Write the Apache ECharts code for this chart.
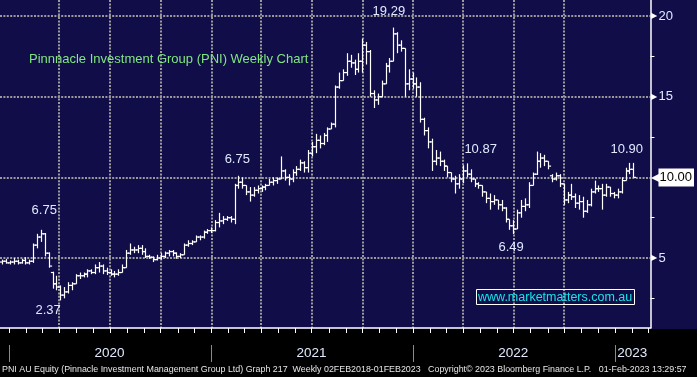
<!DOCTYPE html>
<html>
<head>
<meta charset="utf-8">
<script src="https://cdn.jsdelivr.net/npm/echarts@6/dist/echarts.min.js"></script>
<style>
html, body { margin: 0; padding: 0; background: #100d49; }
#chart { width: 697px; height: 377px; }
</style>
</head>
<body>
<div id="chart"></div>
<script>
var DAY = 864e5;
function day(s) {
    var p = s.split('-');
    return Date.UTC(+p[0], +p[1] - 1, +p[2]);
}

// weekly bars, first one is Fri 20 Dec 2019
var firstWeek = day('2019-12-20');
var opens = [4.75, 4.8, 4.7, 4.75, 4.8, 4.7, 4.85, 4.7, 4.8, 5.8,
    6.3, 6.5, 5.3, 4.1, 3.4, 3.2, 2.7, 2.9, 3.3, 3.4,
    3.9, 3.9, 4.0, 4.2, 4.1, 4.4, 4.5, 4.2, 4.1, 4.0,
    4.0, 4.1, 4.4, 5.3, 5.5, 5.5, 5.6, 5.4, 5.1, 5.05,
    4.9, 5.0, 5.1, 5.3, 5.4, 5.3, 5.1, 5.2, 5.8, 5.9,
    6.0, 6.3, 6.3, 6.6, 6.7, 6.7, 7.2, 7.3, 7.4, 7.5,
    7.4, 9.5, 9.7, 9.5, 9.1, 8.9, 9.2, 9.3, 9.4, 9.5,
    9.7, 9.8, 9.9, 10.4, 10.0, 9.9, 10.3, 10.5, 10.9, 10.6,
    11.5, 11.9, 12.3, 12.1, 12.6, 13.0, 13.3, 15.6, 16.0, 16.5,
    17.2, 17.1, 16.7, 17.2, 18.2, 17.8, 15.2, 14.8, 15.0, 15.8,
    16.9, 17.2, 18.9, 18.2, 18.0, 15.8, 16.1, 15.8, 15.6, 13.6,
    12.9, 12.2, 11.0, 11.2, 11.0, 10.7, 10.3, 9.9, 9.6, 9.9,
    10.4, 10.2, 9.9, 9.6, 9.5, 9.1, 8.7, 8.5, 8.6, 8.3,
    8.1, 7.4, 7.0, 6.8, 7.8, 8.2, 8.3, 9.5, 10.2, 11.0,
    11.2, 11.0, 10.1, 9.9, 10.1, 9.6, 8.6, 8.9, 8.8, 8.4,
    8.5, 7.9, 8.3, 9.1, 9.3, 9.3, 8.9, 9.4, 9.0, 8.9,
    9.1, 9.8, 10.4, 10.5];
var highs = [4.9, 4.95, 4.85, 5.0, 4.9, 4.95, 5.05, 4.9, 5.9, 6.5,
    6.75, 6.55, 5.35, 4.15, 3.9, 3.3, 3.2, 3.5, 3.5, 4.0,
    4.1, 4.1, 4.3, 4.3, 4.6, 4.75, 4.6, 4.4, 4.3, 4.2,
    4.3, 4.6, 5.5, 5.9, 5.7, 5.8, 5.8, 5.6, 5.2, 5.1,
    5.2, 5.3, 5.4, 5.5, 5.5, 5.35, 5.3, 5.9, 6.1, 6.1,
    6.4, 6.4, 6.7, 6.8, 6.9, 7.35, 7.8, 7.6, 7.6, 7.6,
    9.6, 10.1, 10.0, 9.5, 9.4, 9.4, 9.5, 9.5, 9.6, 9.9,
    10.0, 10.0, 11.3, 10.5, 10.2, 10.5, 10.7, 11.1, 11.0, 11.7,
    12.2, 12.7, 12.6, 12.75, 13.1, 13.4, 15.7, 16.5, 16.7, 17.7,
    17.6, 17.3, 17.7, 18.6, 18.4, 17.9, 15.4, 15.2, 16.0, 17.1,
    17.4, 19.29, 19.0, 18.5, 18.0, 16.7, 16.5, 16.2, 15.9, 13.7,
    13.1, 12.4, 11.7, 11.6, 11.1, 10.7, 10.3, 10.1, 10.2, 10.75,
    10.87, 10.5, 9.9, 9.7, 9.5, 9.1, 9.0, 8.9, 8.6, 8.6,
    8.15, 7.4, 7.35, 8.0, 8.6, 8.7, 9.7, 10.3, 11.6, 11.5,
    11.4, 11.0, 10.2, 10.3, 10.2, 9.6, 9.1, 9.6, 9.0, 8.9,
    8.8, 8.6, 9.3, 9.8, 9.5, 9.6, 9.6, 9.4, 9.1, 9.3,
    10.0, 10.6, 10.9, 10.9];
var lows = [4.6, 4.65, 4.6, 4.6, 4.6, 4.65, 4.6, 4.6, 4.7, 5.6,
    6.0, 5.1, 4.4, 3.1, 3.0, 2.37, 2.5, 2.8, 3.0, 3.4,
    3.7, 3.8, 3.8, 4.0, 4.0, 4.1, 4.0, 3.95, 3.9, 3.8,
    3.9, 4.1, 4.4, 5.2, 5.3, 5.3, 5.2, 5.0, 4.95, 4.75,
    4.85, 4.9, 5.0, 5.1, 5.1, 4.95, 5.0, 5.2, 5.7, 5.8,
    6.0, 6.1, 6.2, 6.5, 6.55, 6.65, 6.9, 7.1, 7.3, 7.2,
    7.1, 9.3, 9.3, 8.9, 8.5, 8.8, 9.0, 9.1, 9.2, 9.5,
    9.5, 9.6, 9.9, 9.8, 9.5, 9.7, 10.1, 10.4, 10.3, 10.3,
    11.3, 11.5, 11.8, 12.0, 12.2, 13.0, 13.1, 15.5, 16.0, 16.3,
    16.8, 16.35, 16.5, 16.5, 17.0, 15.0, 14.3, 14.5, 15.0, 15.8,
    16.5, 17.2, 17.7, 17.8, 15.0, 15.4, 15.5, 15.0, 13.4, 12.6,
    11.8, 10.4, 10.75, 10.7, 10.4, 10.0, 9.7, 9.0, 9.3, 9.65,
    10.0, 9.7, 9.4, 9.3, 8.8, 8.4, 8.0, 8.3, 8.0, 7.9,
    7.2, 6.75, 6.49, 6.8, 7.5, 7.9, 8.1, 9.5, 10.15, 10.6,
    10.7, 10.5, 9.7, 9.8, 9.4, 8.3, 8.4, 8.6, 8.1, 8.0,
    7.5, 7.8, 8.2, 9.0, 9.1, 8.0, 8.8, 8.8, 8.7, 8.7,
    9.0, 9.8, 10.2, 10.0];
var closes = [4.8, 4.7, 4.75, 4.8, 4.7, 4.85, 4.7, 4.8, 5.8, 6.3,
    6.5, 5.3, 4.5, 3.4, 3.2, 2.7, 2.9, 3.3, 3.4, 3.9,
    3.9, 4.0, 4.2, 4.1, 4.4, 4.5, 4.2, 4.1, 4.0, 4.0,
    4.1, 4.4, 5.3, 5.5, 5.5, 5.6, 5.4, 5.1, 5.05, 4.9,
    5.0, 5.1, 5.3, 5.4, 5.3, 5.1, 5.2, 5.8, 5.9, 6.0,
    6.3, 6.3, 6.6, 6.7, 6.7, 7.2, 7.3, 7.4, 7.5, 7.4,
    9.5, 9.7, 9.5, 9.1, 8.9, 9.2, 9.3, 9.4, 9.5, 9.7,
    9.8, 9.9, 10.4, 10.0, 9.9, 10.3, 10.5, 10.9, 10.6, 11.5,
    11.9, 12.3, 12.1, 12.6, 13.0, 13.3, 15.6, 16.0, 16.5, 17.2,
    17.1, 16.7, 17.2, 18.2, 17.8, 15.2, 14.8, 15.0, 15.8, 16.9,
    17.2, 18.9, 18.2, 18.0, 15.8, 16.1, 15.8, 15.6, 13.6, 12.9,
    12.2, 11.0, 11.2, 11.0, 10.7, 10.3, 9.9, 9.6, 9.9, 10.4,
    10.2, 9.9, 9.6, 9.5, 9.1, 8.7, 8.5, 8.6, 8.3, 8.1,
    7.4, 7.0, 6.8, 7.8, 8.2, 8.3, 9.5, 10.2, 11.0, 11.2,
    11.0, 10.7, 9.9, 10.1, 9.6, 8.6, 8.9, 8.8, 8.4, 8.5,
    7.9, 8.3, 9.1, 9.3, 9.3, 8.9, 9.4, 9.0, 8.9, 9.1,
    9.8, 10.4, 10.5, 10.0];

var lastPrice = 10.00;

// price annotations written on the chart
var noteTexts = ['6.75', '2.37', '6.75', '19.29', '10.87', '6.49', '10.90'];
var noteDates = ['2020-03-05', '2020-03-12', '2021-02-17', '2021-11-18', '2022-05-03', '2022-06-27', '2023-01-22'];
var noteValues = [7.98, 1.78, 11.14, 20.28, 11.76, 5.68, 11.76];

var yearLabels = ['2020-07-01', '2021-07-01', '2022-07-01', '2023-02-01'];
var priceLabels = [5, 10, 15, 20];

var yMin = 0.66;
var xMin = day('2019-12-16');
var xMax = day('2023-03-06');

// month starts along the time axis; Jan ones also get the year divider
var monthTicks = [];
var quarterTicks = [];
for (var y = 2020; y <= 2023; y++) {
    for (var m = 0; m < 12; m++) {
        var t = Date.UTC(y, m, 1);
        if (t > xMax) break;
        monthTicks.push([t, m === 0 ? 1 : 0]);
        if (m % 3 === 0) quarterTicks.push(t);
    }
}

var bars = opens.map(function (o, i) {
    return [firstWeek + i * 7 * DAY, o, highs[i], lows[i], closes[i]];
});

var chartDom = document.getElementById('chart');
var myChart = echarts.init(chartDom);

var gridDots = { color: '#9a9a9a', width: 2, type: [2, 1.4] };
var labelFont = 'Liberation Sans, Arial, sans-serif';

function renderOhlc(params, api) {
    var t = api.value(0);
    var h = api.coord([t, api.value(2)]);
    var l = api.coord([t, api.value(3)]);
    var o = api.coord([t, api.value(1)]);
    var c = api.coord([t, api.value(4)]);
    var x = Math.round(h[0]) + 0.5;
    var style = { stroke: '#ffffff', lineWidth: 1.2 };
    return {
        type: 'group',
        children: [
            { type: 'line', shape: { x1: x, y1: h[1], x2: x, y2: l[1] }, style: style },
            { type: 'line', shape: { x1: x - 2.6, y1: o[1], x2: x, y2: o[1] }, style: style },
            { type: 'line', shape: { x1: x, y1: c[1], x2: x + 2.6, y2: c[1] }, style: style }
        ]
    };
}

// month ticks under the axis line, plus grey year dividers lower down
function renderCalendar(params, api) {
    var p = api.coord([api.value(0), yMin]);
    var x = Math.round(p[0]) + 0.5;
    var kids = [{
        type: 'line',
        shape: { x1: x, y1: p[1], x2: x, y2: p[1] + 5 },
        style: { stroke: '#ffffff', lineWidth: 1 }
    }];
    if (api.value(1) === 1) {
        kids.push({
            type: 'line',
            shape: { x1: x, y1: p[1] + 17, x2: x, y2: p[1] + 34 },
            style: { stroke: '#8a8a8a', lineWidth: 1 }
        });
    }
    return { type: 'group', children: kids };
}

var option = {
    animation: false,
    backgroundColor: '#100d49',
    title: [
        {
            text: 'Pinnnacle Investment Group (PNI) Weekly Chart',
            left: 29, top: 53, padding: 0,
            textStyle: { color: '#80e680', fontSize: 13, fontWeight: 'normal', fontFamily: labelFont }
        },
        {
            text: 'www.marketmatters.com.au',
            left: 476, top: 289, padding: [2, 3, 1, 2],
            borderColor: '#ffffff', borderWidth: 1,
            textStyle: { color: '#19e3ea', fontSize: 12.5, fontWeight: 'normal', fontFamily: labelFont }
        },
        {
            text: 'PNI AU Equity (Pinnacle Investment Management Group Ltd) Graph 217  Weekly 02FEB2018-01FEB2023   Copyright\u00a9 2023 Bloomberg Finance L.P.   01-Feb-2023 13:29:57',
            left: 2, top: 365, padding: 0,
            textStyle: { color: '#e6e6e6', fontSize: 8.9, fontWeight: 'normal', fontFamily: labelFont }
        }
    ],
    graphic: [
        {
            type: 'rect', left: 0, top: 329, z: -10,
            shape: { width: 697, height: 48 },
            style: { fill: '#000000' }
        }
    ],
    grid: { left: 0, right: 43, top: 0, bottom: 49 },
    xAxis: [
        {
            type: 'value', min: xMin, max: xMax,
            axisLine: { show: true, lineStyle: { color: '#ffffff', width: 1.5 } },
            axisTick: { show: false },
            axisLabel: {
                show: true,
                customValues: yearLabels.map(day),
                margin: 18,
                color: '#e2e9ff', fontSize: 13.5, fontFamily: labelFont,
                formatter: function (v) { return String(new Date(v).getUTCFullYear()); }
            },
            splitLine: { show: false }
        },
        {
            type: 'value', min: xMin, max: xMax,
            axisLine: { show: false },
            axisTick: { show: true, customValues: quarterTicks, length: 0, lineStyle: { opacity: 0 } },
            axisLabel: { show: false },
            splitLine: { show: true, showMinLine: false, showMaxLine: false, lineStyle: gridDots }
        }
    ],
    yAxis: {
        type: 'value', position: 'right',
        min: yMin, max: 21, splitNumber: 4,
        axisLine: { show: true, lineStyle: { color: '#ffffff', width: 1.5 } },
        axisTick: { show: false },
        minorTick: { show: true, splitNumber: 2, length: 4, lineStyle: { color: '#ffffff' } },
        axisLabel: {
            customValues: priceLabels,
            margin: 1,
            formatter: function (v) {
                if (v === lastPrice) return '{tri|\u25c0}{tag|' + lastPrice.toFixed(2) + '}';
                return '{arr|\u25b6}{num|' + v + '}';
            },
            rich: {
                arr: { color: '#ffffff', fontSize: 8, padding: [0, 1, 0, 0] },
                num: { color: '#e2e9ff', fontSize: 13, fontFamily: labelFont },
                tri: { color: '#ffffff', fontSize: 12, padding: [0, -2, 0, 0] },
                tag: { color: '#000000', backgroundColor: '#ffffff', fontSize: 13, fontFamily: labelFont, padding: [3, 2, 2, 1] }
            }
        },
        splitLine: { show: true, showMinLine: false, showMaxLine: false, lineStyle: gridDots }
    },
    series: [
        {
            name: 'PNI',
            type: 'custom',
            renderItem: renderOhlc,
            encode: { x: 0, y: [1, 2, 3, 4] },
            data: bars,
            z: 3,
            markPoint: {
                symbol: 'circle', symbolSize: 0,
                label: {
                    show: true, position: 'inside',
                    color: '#e2e9ff', fontSize: 13, fontFamily: labelFont,
                    formatter: function (p) { return p.name; }
                },
                data: noteTexts.map(function (txt, i) {
                    return { name: txt, coord: [day(noteDates[i]), noteValues[i]] };
                })
            }
        },
        {
            name: 'calendar',
            type: 'custom',
            renderItem: renderCalendar,
            encode: { x: 0 },
            clip: false,
            silent: true,
            data: monthTicks,
            z: 4
        }
    ]
};

option && myChart.setOption(option);
</script>
</body>
</html>
